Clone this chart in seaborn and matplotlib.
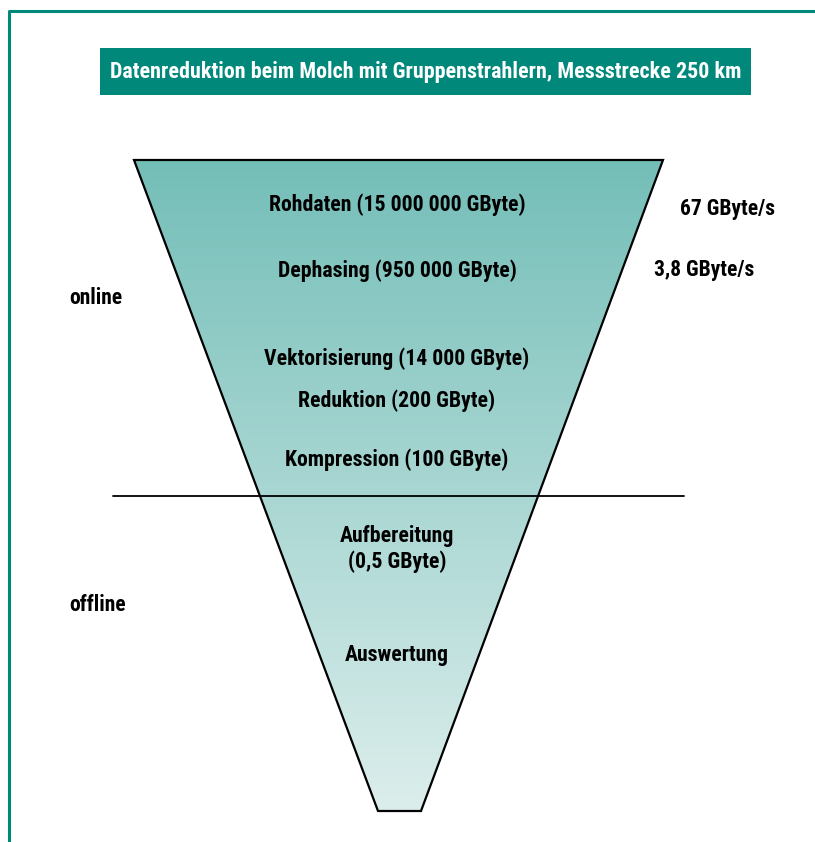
import numpy as np
import matplotlib
matplotlib.use("Agg")
import matplotlib.pyplot as plt
from matplotlib.patches import Polygon, Rectangle
from matplotlib.colors import LinearSegmentedColormap
import seaborn as sns

# ---------------------------------------------------------------
# Daten
# ---------------------------------------------------------------
title = "Datenreduktion beim Molch mit Gruppenstrahlern, Messstrecke 250 km"
stages = ["Rohdaten (15 000 000 GByte)",
          "Dephasing (950 000 GByte)",
          "Vektorisierung (14 000 GByte)",
          "Reduktion (200 GByte)",
          "Kompression (100 GByte)",
          "Aufbereitung\n(0,5 GByte)",
          "Auswertung"]
stage_y = [205, 271, 359, 401, 460, 549, 655]
phases = ["online", "offline"]
phase_y = [298, 605]
rates = ["67 GByte/s", "3,8 GByte/s"]
rate_x = [680, 654]
rate_y = [209, 270]

# Trichter (Pixelkoordinaten)
funnel_x = [134, 663, 421, 378]
funnel_y = [160, 160, 811, 811]
divider_x = [113, 684]
divider_y = [496, 496]

teal = "#00897b"
top_col = "#74beb8"
bottom_col = "#dceeec"

sns.set_theme(style="white")
plt.rcParams["font.family"] = ["Roboto Condensed", "Roboto", "DejaVu Sans"]
plt.rcParams["font.weight"] = "bold"
plt.rcParams["text.color"] = "black"

fig = plt.figure(figsize=(8.15, 8.42), dpi=100)
ax = fig.add_axes([0, 0, 1, 1])
ax.set_xlim(0, 815)
ax.set_ylim(842, 0)
ax.axis("off")

# Rahmen
ax.plot([8.5, 8.5, 815], [842, 10.5, 10.5], color=teal, lw=2.2, solid_capstyle="butt")

# Titelbox
ax.add_patch(Rectangle((100, 48), 651, 47, color=teal, lw=0))
ax.text(425.5, 72, title, color="white", ha="center", va="center",
        fontsize=15.8, fontweight="bold")

# Trichter mit Farbverlauf
cmap = LinearSegmentedColormap.from_list("funnel", [top_col, bottom_col])
grad = np.linspace(0, 1, 256).reshape(-1, 1)
poly = Polygon(list(zip(funnel_x, funnel_y)), closed=True, fc="none",
               ec="black", lw=1.6, zorder=3)
ax.add_patch(poly)
im = ax.imshow(grad, cmap=cmap, aspect="auto", origin="upper",
               extent=[min(funnel_x), max(funnel_x), max(funnel_y), min(funnel_y)],
               zorder=1)
im.set_clip_path(poly)

# Trennlinie online/offline
sns.lineplot(x=divider_x, y=divider_y, color="black", lw=1.3, ax=ax, zorder=4)

for label, y in zip(stages, stage_y):
    ax.text(397, y, label, ha="center", va="center", fontsize=15.7,
            fontweight="bold", linespacing=1.2, zorder=5)

for label, y in zip(phases, phase_y):
    ax.text(69, y, label, ha="left", va="center", fontsize=15.5, fontweight="bold")

for label, x, y in zip(rates, rate_x, rate_y):
    ax.text(x, y, label, ha="left", va="center", fontsize=15.5, fontweight="bold")

ax.set_xlim(0, 815)
ax.set_ylim(842, 0)
fig.savefig("out.png", dpi=100)
